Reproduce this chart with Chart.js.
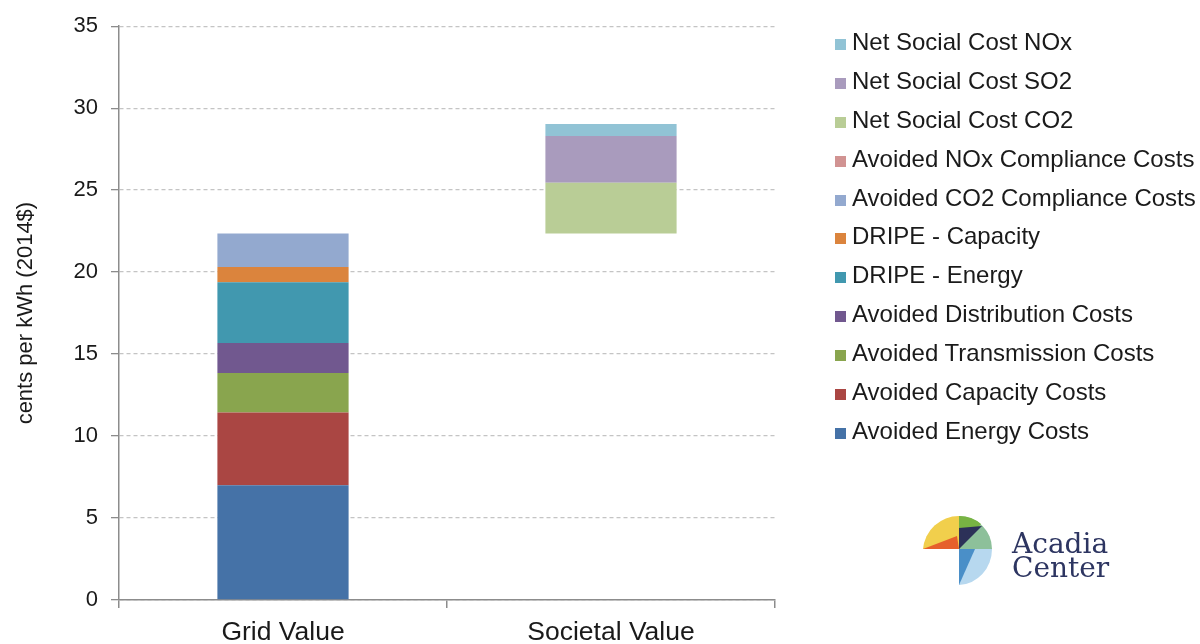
<!DOCTYPE html>
<html>
<head>
<meta charset="utf-8">
<script src="https://cdn.jsdelivr.net/npm/chart.js@4.4.1/dist/chart.umd.min.js"></script>
<style>
  html, body { margin: 0; padding: 0; background: #fff; overflow: hidden; }
  #wrap { position: relative; width: 1200px; height: 660px; }
  #legend { position: absolute; left: 835px; top: 23px; font: 24px 'Liberation Sans', Arial, sans-serif; color: #1a1a1a; }
  #legend .item { height: 38.9px; line-height: 38.9px; white-space: nowrap; }
  #legend .box { display: inline-block; width: 11px; height: 11px; margin-right: 6px; vertical-align: 0px; }
  #logo { position: absolute; left: 915px; top: 510px; }
</style>
</head>
<body>
<div id="wrap">
  <canvas id="chart"></canvas>
  <div id="legend"></div>
  <svg id="logo" width="210" height="85" viewBox="915 510 210 85">
    <path d="M959,549 L923,549 A36,36 0 0 1 959,516 Z" fill="#f1cf4c"/>
    <path d="M959,549 L923,549 L957,536 Z" fill="#e6602b"/>
    <path d="M959,549 L959,516 A33,33 0 0 1 992,549 Z" fill="#8dc09a"/>
    <path d="M959,549 L959,516 A33,33 0 0 1 981,524 Z" fill="#78b443"/>
    <path d="M959,549 L959,528 L982,526 Z" fill="#2c3158"/>
    <path d="M959,549 L992,549 A34,36 0 0 1 959,585 Z" fill="#b7d8ef"/>
    <path d="M959,549 L959,585 L975,549 Z" fill="#4a8fc8"/>
    <text x="1012" y="553" font-family="'DejaVu Serif', serif" font-size="28" fill="#2d3561">Acadia</text>
    <text x="1012" y="577" font-family="'DejaVu Serif', serif" font-size="28" fill="#2d3561">Center</text>
  </svg>
</div>
<script>
const categories = ['Grid Value', 'Societal Value'];

// Grid value components (cents per kWh)
const avoidedEnergy = [7.0, null];
const avoidedCapacity = [4.44, null];
const avoidedTransmission = [2.41, null];
const avoidedDistribution = [1.82, null];
const dripeEnergy = [3.71, null];
const dripeCapacity = [0.93, null];
const avoidedCO2Compliance = [2.05, null];
const avoidedNOxCompliance = [0, null];

// Societal value sits on top of the grid value total
const societalBase = [null, 22.36];
const socialCostCO2 = [null, 3.09];
const socialCostSO2 = [null, 2.86];
const socialCostNOx = [null, 0.73];

const series = [
  { label: 'Avoided Energy Costs', data: avoidedEnergy, color: '#4572A7' },
  { label: 'Avoided Capacity Costs', data: avoidedCapacity, color: '#AA4643' },
  { label: 'Avoided Transmission Costs', data: avoidedTransmission, color: '#89A54E' },
  { label: 'Avoided Distribution Costs', data: avoidedDistribution, color: '#71588F' },
  { label: 'DRIPE - Energy', data: dripeEnergy, color: '#4198AF' },
  { label: 'DRIPE - Capacity', data: dripeCapacity, color: '#DB843D' },
  { label: 'Avoided CO2 Compliance Costs', data: avoidedCO2Compliance, color: '#93A9CF' },
  { label: 'Avoided NOx Compliance Costs', data: avoidedNOxCompliance, color: '#D19392' },
  { label: 'base', data: societalBase, color: 'rgba(0,0,0,0)', hidden: true },
  { label: 'Net Social Cost CO2', data: socialCostCO2, color: '#B9CD96' },
  { label: 'Net Social Cost SO2', data: socialCostSO2, color: '#A99BBD' },
  { label: 'Net Social Cost NOx', data: socialCostNOx, color: '#91C3D5' }
];

const FONT = "'Liberation Sans', Arial, sans-serif";
const AXIS = '#8c8c8c';

new Chart(document.getElementById('chart'), {
  type: 'bar',
  data: {
    labels: categories,
    datasets: series.map((s) => ({
      label: s.label,
      data: s.data,
      backgroundColor: s.color,
      borderWidth: 0,
      barPercentage: 0.4,
      categoryPercentage: 1.0
    }))
  },
  options: {
    responsive: true,
    maintainAspectRatio: false,
    animation: false,
    layout: { padding: { top: 22, right: 425, bottom: 0, left: 0 } },
    plugins: {
      legend: { display: false },
      tooltip: { enabled: false }
    },
    scales: {
      x: {
        stacked: true,
        afterFit: (scale) => { scale.height = 60; },
        grid: { drawOnChartArea: false, color: AXIS, lineWidth: 1.5, tickLength: 8, offset: true },
        border: { color: AXIS, width: 1.5 },
        ticks: { color: '#1a1a1a', padding: 9, font: { family: FONT, size: 26.5 } }
      },
      y: {
        stacked: true,
        min: 0,
        max: 35,
        afterFit: (scale) => { scale.width = 119; },
        grid: { color: '#c4c4c4', lineWidth: 1.3, tickLength: 8, tickColor: AXIS },
        border: { color: AXIS, width: 1.5, dash: [4, 3] },
        ticks: { stepSize: 5, color: '#1a1a1a', padding: 13, font: { family: FONT, size: 22 } },
        title: { display: true, text: 'cents per kWh (2014$)', color: '#1a1a1a', padding: { top: 13, bottom: 0 }, font: { family: FONT, size: 22 } }
      }
    }
  }
});

// legend, top item is the last dataset
const legend = document.getElementById('legend');
series.filter((s) => !s.hidden).reverse().forEach((s) => {
  const row = document.createElement('div');
  row.className = 'item';
  row.innerHTML = '<span class="box" style="background:' + s.color + '"></span>' + s.label;
  legend.appendChild(row);
});
</script>
</body>
</html>
